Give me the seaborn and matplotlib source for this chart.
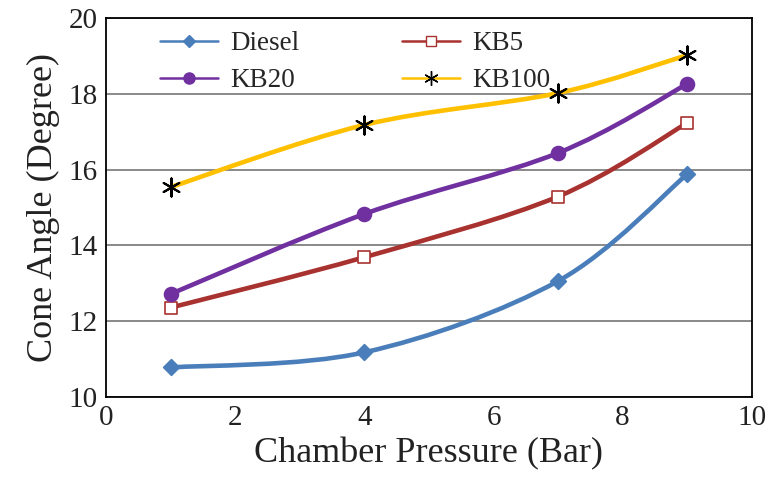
import numpy as np
import pandas as pd
import matplotlib
matplotlib.use("Agg")
import matplotlib.pyplot as plt
from matplotlib.path import Path
from matplotlib.patches import PathPatch
from matplotlib.lines import Line2D
import seaborn as sns

pressure = [1, 4, 7, 9]
diesel = [10.78, 11.18, 13.06, 15.88]
kb5 = [12.36, 13.69, 15.29, 17.23]
kb20 = [12.72, 14.83, 16.44, 18.26]
kb100 = [15.54, 17.18, 18.02, 19.02]

series_names = ["Diesel", "KB5", "KB20", "KB100"]
series_values = [diesel, kb5, kb20, kb100]

colors = {"Diesel": "#4a7ebb", "KB5": "#a8322f", "KB20": "#7030a0", "KB100": "#ffc000"}
markers = {"Diesel": "D", "KB5": "s", "KB20": "o", "KB100": (6, 2, 0)}
mfc = {"Diesel": "#4a7ebb", "KB5": "white", "KB20": "#7030a0", "KB100": "black"}
mec = {"Diesel": "#4a7ebb", "KB5": "#a8322f", "KB20": "#7030a0", "KB100": "black"}
msize = {"Diesel": 8, "KB5": 9, "KB20": 10, "KB100": 13}

df = pd.DataFrame(
    [(p, v, n) for n, vals in zip(series_names, series_values) for p, v in zip(pressure, vals)],
    columns=["pressure", "angle", "fuel"],
)

sns.set_style("white")
plt.rcParams["font.family"] = ["Liberation Serif", "DejaVu Serif"]

fig = plt.figure(figsize=(7.75, 4.86), dpi=100)
ax = fig.add_axes([0.137, 0.183, 0.833, 0.780])


def smooth_path(xs, ys):
    """Cubic Bezier path through the points (Catmull-Rom style smoothing)."""
    pts = np.column_stack([xs, ys]).astype(float)
    n = len(pts)
    verts = [pts[0]]
    codes = [Path.MOVETO]
    for i in range(n - 1):
        p0 = pts[i - 1] if i > 0 else pts[i]
        p1 = pts[i]
        p2 = pts[i + 1]
        p3 = pts[i + 2] if i + 2 < n else pts[i + 1]
        c1 = p1 + (p2 - p0) / 6.0
        c2 = p2 - (p3 - p1) / 6.0
        verts += [c1, c2, p2]
        codes += [Path.CURVE4] * 3
    return Path(verts, codes)


for name in series_names:
    sub = df[df.fuel == name]
    ax.add_patch(PathPatch(smooth_path(sub.pressure, sub.angle), facecolor="none",
                           edgecolor=colors[name], lw=3.3, zorder=3, capstyle="round"))
    sns.scatterplot(data=sub, x="pressure", y="angle", ax=ax, marker=markers[name],
                    s=msize[name] ** 2, color=mfc[name], edgecolor=mec[name],
                    linewidth=1.2 if name != "KB100" else 1.5, zorder=4, legend=False)

ax.set_xlim(0, 10)
ax.set_ylim(10, 20)
ax.set_xticks(range(0, 11, 2))
ax.set_yticks(range(10, 21, 2))
ax.yaxis.grid(True, color="#808080", lw=1.3)
ax.xaxis.grid(False)
ax.set_axisbelow(True)
for sp in ax.spines.values():
    sp.set_visible(True)
    sp.set_color("black")
    sp.set_linewidth(1.3)
ax.tick_params(axis="both", length=0, labelsize=21, colors="#222222", pad=6)
ax.set_xlabel("Chamber Pressure (Bar)", fontsize=26, labelpad=4, color="#222222")
ax.set_ylabel("Cone Angle (Degree)", fontsize=26, labelpad=6, color="#222222")

# legend rows: Diesel / KB5 on top, KB20 / KB100 below (columns fill first)
legend_order = ["Diesel", "KB20", "KB5", "KB100"]
handles = [
    Line2D([], [], color=colors[n], lw=1.8, marker=markers[n], markersize=msize[n] * 0.8,
           markerfacecolor=mfc[n], markeredgecolor=mec[n])
    for n in legend_order
]
leg = ax.legend(handles, legend_order, ncol=2, frameon=False, fontsize=19.5,
                loc="upper left", bbox_to_anchor=(0.083, 0.965), borderpad=0,
                borderaxespad=0, columnspacing=3.8, handlelength=2.15,
                handletextpad=0.45, labelspacing=0.45)

fig.savefig("out.png", dpi=100, facecolor="white")
